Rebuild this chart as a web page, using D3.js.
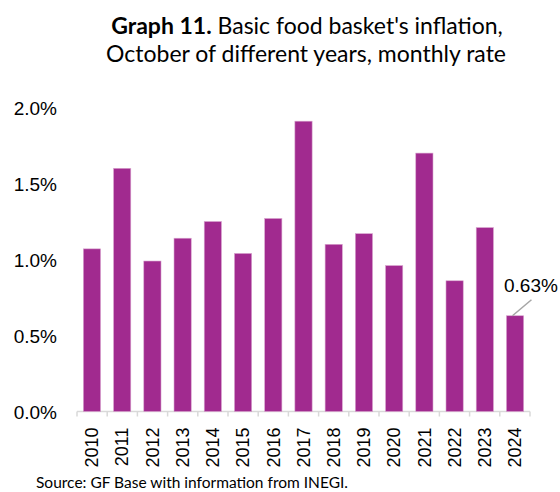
<!DOCTYPE html>
<head>
    <meta charset="utf-8">
    <title>Graph 11</title>
    <script type="text/javascript" src="https://d3js.org/d3.v7.min.js"></script>
    <style>
        body { margin: 0; background: #fff; }
        .title { font-family: Lato, "Open Sans", sans-serif; font-size: 23px; fill: #000; }
        .tick text { font-family: "Liberation Sans", Arial, sans-serif; fill: #000; }
        .source { font-family: Lato, "Open Sans", sans-serif; font-size: 15.5px; fill: #000; }
    </style>
</head>
<body>
<div id="container"></div>
<script>
    //-----------------------------DATA------------------------------//
    const years = ["2010", "2011", "2012", "2013", "2014", "2015", "2016", "2017",
        "2018", "2019", "2020", "2021", "2022", "2023", "2024"];
    const rates = [1.07, 1.60, 0.99, 1.14, 1.25, 1.04, 1.27, 1.91,
        1.10, 1.17, 0.96, 1.70, 0.86, 1.21, 0.63];
    const yTicks = [0, 0.5, 1.0, 1.5, 2.0];

    //-----------------------------SVG-------------------------------//
    const width = 560;
    const height = 492;
    const svg = d3.select("div#container").append("svg")
        .attr("width", width)
        .attr("height", height);

    //----------------------------SCALES-----------------------------//
    const xScale = d3.scaleBand().domain(years).range([77, 530]).paddingInner(0.43).paddingOuter(0.21);
    const yScale = d3.scaleLinear().domain([0, 2]).range([411.5, 107.5]);

    //-----------------------------TITLE-----------------------------//
    const title = svg.append("text").attr("class", "title").attr("text-anchor", "middle");
    const l1 = title.append("tspan").attr("x", 307).attr("y", 34);
    l1.append("tspan").style("font-weight", "bold").text("Graph 11.");
    l1.append("tspan").text(" Basic food basket's inflation,");
    title.append("tspan").attr("x", 306).attr("y", 62).text("October of different years, monthly rate");

    //-----------------------------AXES------------------------------//
    const yaxis = d3.axisLeft(yScale).tickValues(yTicks).tickSize(0).tickPadding(0)
        .tickFormat(d => d.toFixed(1) + "%");
    svg.append("g")
        .attr("transform", "translate(57,0)")
        .call(yaxis)
        .call(g => g.select(".domain").remove())
        .selectAll("text").style("font-size", "19px").attr("dy", "0.35em");

    const xaxis = d3.axisBottom(xScale).tickSize(0).tickPadding(0);
    const xg = svg.append("g")
        .attr("transform", "translate(0," + yScale(0) + ")")
        .call(xaxis);
    xg.select(".domain").attr("stroke", "#d9d9d9").attr("stroke-width", 1.5)
        .attr("d", "M" + xScale.range()[0] + ",0H" + xScale.range()[1]);
    xg.selectAll(".tick text")
        .style("font-size", "18px")
        .attr("transform", "rotate(-90)")
        .attr("text-anchor", "end")
        .attr("x", -16)
        .attr("y", 0)
        .attr("dy", "0.35em");

    // separator ticks between categories
    const bounds = d3.range(years.length + 1).map(i => xScale.range()[0] + i * (xScale.range()[1] - xScale.range()[0]) / years.length);
    xg.selectAll(".sep").data(bounds).enter().append("line")
        .attr("x1", d => d).attr("x2", d => d)
        .attr("y1", 0).attr("y2", 5)
        .attr("stroke", "#d9d9d9").attr("stroke-width", 1.5);

    //-----------------------------BARS------------------------------//
    svg.selectAll(".bar")
        .data(years)
        .enter()
        .append("rect")
        .attr("class", "bar")
        .attr("x", d => xScale(d))
        .attr("width", xScale.bandwidth())
        .attr("y", (d, i) => yScale(rates[i]))
        .attr("height", (d, i) => yScale(0) - yScale(rates[i]))
        .attr("fill", "#a12a8f")
        .attr("stroke", "#d9a6cf")
        .attr("stroke-width", 0.6);

    //--------------------------ANNOTATION---------------------------//
    const last = years.length - 1;
    const lx = xScale(years[last]) + xScale.bandwidth() * 0.35;
    const ly = yScale(rates[last]);
    svg.append("line")
        .attr("x1", lx).attr("y1", ly)
        .attr("x2", lx + 19).attr("y2", ly - 16)
        .attr("stroke", "#a6a6a6").attr("stroke-width", 1.5);
    svg.append("text")
        .attr("x", 504).attr("y", ly - 24)
        .style("font-family", "'Liberation Sans', Arial, sans-serif")
        .style("font-size", "19px")
        .text(rates[last].toFixed(2) + "%");

    //-----------------------------SOURCE----------------------------//
    svg.append("text").attr("class", "source")
        .attr("x", 36).attr("y", 488)
        .text("Source: GF Base with information from INEGI.");
</script>
</body>
